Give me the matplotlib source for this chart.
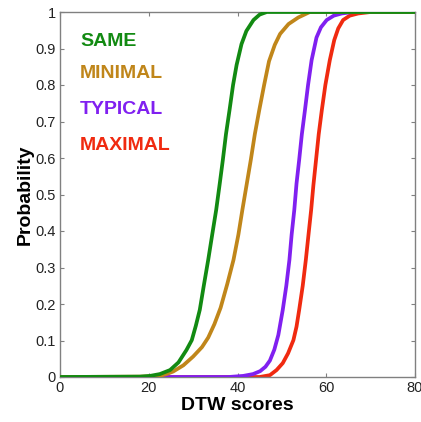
import matplotlib
matplotlib.use("Agg")
import matplotlib.pyplot as plt

# Data (DTW score, cumulative probability)
same_x = [0, 18, 20.3, 22.5, 24.8, 26.7, 28.5, 29.7, 30.6, 31.5, 32.4, 33.4, 34.3, 35.2, 36.0, 36.7,
          37.4, 38.2, 39.0, 39.8, 40.9, 42.0, 43.6, 45.0, 46.6, 80]
same_y = [0, 0.001, 0.003, 0.008, 0.019, 0.04, 0.074, 0.101, 0.14, 0.184, 0.25, 0.321, 0.39, 0.458, 0.53, 0.595,
          0.665, 0.731, 0.80, 0.855, 0.912, 0.948, 0.978, 0.993, 1.0, 1.0]

minimal_x = [0, 18, 22.5, 24.0, 25.5, 27.8, 30.0, 32.0, 33.4, 34.8, 36.2, 37.7, 39.1, 40.2, 41.1, 42.1,
             43.0, 43.9, 44.9, 46.0, 47.1, 48.4, 49.6, 51.5, 53.7, 56.3, 80]
minimal_y = [0, 0.001, 0.003, 0.008, 0.015, 0.032, 0.056, 0.082, 0.108, 0.145, 0.19, 0.255, 0.321, 0.39, 0.458, 0.53,
             0.595, 0.665, 0.731, 0.80, 0.865, 0.91, 0.94, 0.967, 0.985, 1.0, 1.0]

typical_x = [0, 38, 41.3, 43.5, 45.1, 46.3, 47.3, 48.3, 49.2, 50.2, 51.0, 51.7, 52.2, 52.8, 53.3, 53.9,
             54.5, 55.2, 55.9, 56.7, 57.8, 58.8, 60.1, 61.7, 63.5, 66, 80]
typical_y = [0, 0, 0.003, 0.008, 0.016, 0.028, 0.045, 0.075, 0.115, 0.184, 0.25, 0.321, 0.39, 0.458, 0.53, 0.595,
             0.665, 0.731, 0.80, 0.868, 0.93, 0.958, 0.978, 0.99, 0.996, 1.0, 1.0]

maximal_x = [0, 45, 47.3, 48.8, 50.2, 51.4, 52.6, 53.3, 53.9, 54.7, 55.4, 56.0, 56.6, 57.1, 57.7, 58.3,
             59.0, 59.8, 60.8, 61.8, 62.7, 63.8, 65.3, 67.2, 70, 80]
maximal_y = [0, 0, 0.005, 0.019, 0.038, 0.065, 0.101, 0.138, 0.184, 0.25, 0.321, 0.39, 0.458, 0.525, 0.595, 0.665,
             0.731, 0.80, 0.868, 0.923, 0.955, 0.978, 0.99, 0.996, 1.0, 1.0]

labels = ["SAME", "MINIMAL", "TYPICAL", "MAXIMAL"]
colors = ["#128a12", "#c0861a", "#8020f0", "#f02a10"]

x_ticks = [0, 20, 40, 60, 80]
y_ticks = [0, 0.1, 0.2, 0.3, 0.4, 0.5, 0.6, 0.7, 0.8, 0.9, 1]
y_tick_labels = ["0", "0.1", "0.2", "0.3", "0.4", "0.5", "0.6", "0.7", "0.8", "0.9", "1"]

plt.rcParams['font.family'] = ['Liberation Sans', 'DejaVu Sans']

fig = plt.figure(figsize=(4.21, 4.22), dpi=100)
ax = fig.add_axes([60/421, 45/422, 355/421, 365/422])

series = [(same_x, same_y), (minimal_x, minimal_y), (typical_x, typical_y), (maximal_x, maximal_y)]
# draw in reverse so SAME is on top
for i in [3, 2, 1, 0]:
    xs, ys = series[i]
    ax.plot(xs, ys, color=colors[i], lw=2.7, solid_joinstyle='round', solid_capstyle='butt', zorder=2 + (3 - i))

ax.set_xlim(0, 80)
ax.set_ylim(0, 1)
ax.set_xticks(x_ticks)
ax.set_yticks(y_ticks)
ax.set_yticklabels(y_tick_labels)
ax.tick_params(direction='in', length=3, width=0.8, colors='#808080', labelcolor='#222222',
               labelsize=10.5, top=True, right=True, pad=3)
for s in ax.spines.values():
    s.set_color('#808080')
    s.set_linewidth(1.0)

ax.set_xlabel("DTW scores", fontsize=14, fontweight='bold', labelpad=1)
ax.set_ylabel("Probability", fontsize=14, fontweight='bold', labelpad=1)

label_y = [41, 74, 110, 145]
for lab, col, py in zip(labels, colors, label_y):
    fig.text(80/421, 1 - py/422, lab, color=col, fontsize=14, fontweight='bold', va='center', ha='left')

fig.savefig("out.png", dpi=100)
